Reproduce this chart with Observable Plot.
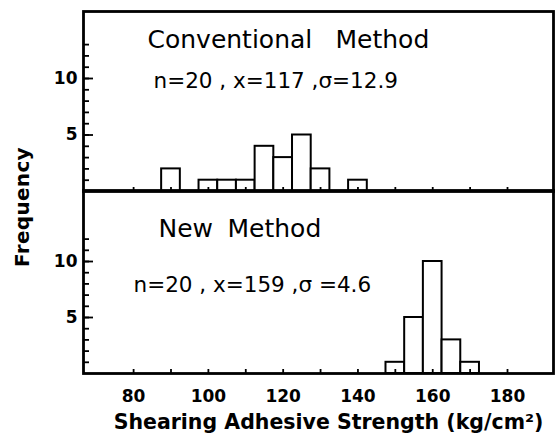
<!DOCTYPE html>
<html>
<head>
<meta charset="utf-8">
<script src="https://cdn.jsdelivr.net/npm/d3@7"></script>
<script src="https://cdn.jsdelivr.net/npm/@observablehq/plot@0.6"></script>
<style>
  html, body { margin: 0; padding: 0; background: white; }
  #chart { position: relative; width: 558px; height: 440px; font-family: "DejaVu Sans", sans-serif; color: black; }
  #chart svg { position: absolute; left: 0; top: 0; background: transparent !important; }
  #ylabel { position: absolute; left: 22px; top: 207px; transform: translate(-50%, -50%) rotate(-90deg); font-size: 20px; font-weight: bold; white-space: nowrap; letter-spacing: 0.3px; }
</style>
</head>
<body>
<div id="chart"><div id="ylabel">Frequency</div></div>
<script>
// ---- data ----
const convBins   = [90, 100, 105, 110, 115, 120, 125, 130, 140];
const convCounts = [2, 1, 1, 1, 4, 3, 5, 2, 1];
const newBins    = [150, 155, 160, 165, 170];
const newCounts  = [1, 5, 10, 3, 1];
const binWidth = 5;

const xMinorTicks = [80, 90, 100, 110, 120, 130, 140, 150, 160, 170, 180];
const xTickLabels = [80, 100, 120, 140, 160, 180];
const yMinorTicksTop = [1, 2, 3, 4, 5, 6, 7, 8, 9, 10, 11, 12, 13];
const yMinorTicksBottom = [1, 2, 3, 4, 5, 6, 7, 8, 9, 10, 11, 12];
const yMajorTicks = [5, 10];

const titleTop = ["Conventional", "Method"];
const statsTop = "n=20 , x=117 ,σ=12.9";
const titleBottom = ["New", "Method"];
const statsBottom = "n=20 , x=159 ,σ =4.6";
const xTitle = "Shearing Adhesive Strength (kg/cm²)";

const toRows = (bins, counts) => bins.map((b, i) => ({x1: b - binWidth / 2, x2: b + binWidth / 2, count: counts[i]}));

const xDomain = [66.6, 192.3];
const W = 558, ML = 83, MR = 5;

function panel({rows, yMinor, yDomain, height, marginTop, marginBottom, title, stats, titlePos, statsPos, showXLabels}) {
  const marks = [
    Plot.rectY(rows, {x1: "x1", x2: "x2", y: "count", fill: "white", stroke: "black", strokeWidth: 2}),
    Plot.axisY(yMinor, {anchor: "left", tickSize: 6, dx: 6, text: null, label: null, strokeWidth: 1.8}),
    Plot.axisY(yMajorTicks, {anchor: "left", tickSize: 10, dx: 10, text: null, label: null, strokeWidth: 1.8}),
    Plot.axisY(yMajorTicks, {anchor: "left", tickSize: 0, tickPadding: 6, label: null, fontSize: 17, fontWeight: "bold"}),
    Plot.axisX(xMinorTicks, {anchor: "bottom", tickSize: 4, dy: -4, text: null, label: null, strokeWidth: 1.8}),
    Plot.frame({stroke: "black", strokeWidth: 2.8}),
    // title words (placed as in the reference, with its wide word gap)
    ...title.map((w, i) => Plot.text([w], {text: d => d, frameAnchor: "top-left", dx: titlePos[i][0], dy: titlePos[i][1], textAnchor: "start", lineAnchor: "middle", fontSize: 25})),
    Plot.text([stats], {text: d => d, frameAnchor: "top-left", dx: statsPos[0], dy: statsPos[1], textAnchor: "start", lineAnchor: "middle", fontSize: 21.5})
  ];
  if (showXLabels) {
    marks.push(Plot.axisX(xTickLabels, {anchor: "bottom", tickSize: 0, tickPadding: 16, label: null, fontSize: 17, fontWeight: "bold"}));
    marks.push(Plot.text([xTitle], {text: d => d, frameAnchor: "bottom", dx: 10, dy: 49, lineAnchor: "middle", fontSize: 20.5, fontWeight: "bold"}));
  }
  return Plot.plot({
    width: W, height, marginLeft: ML, marginRight: MR, marginTop, marginBottom,
    style: {fontFamily: "DejaVu Sans, sans-serif", color: "black", background: "transparent", overflow: "visible"},
    x: {domain: xDomain},
    y: {domain: yDomain},
    marks
  });
}

const topPanel = panel({
  rows: toRows(convBins, convCounts), yMinor: yMinorTicksTop, yDomain: [0, 15.93],
  height: 193, marginTop: 11, marginBottom: 2,
  title: titleTop, stats: statsTop, titlePos: [[64, 28], [252, 28]], statsPos: [70, 70], showXLabels: false
});
const bottomPanel = panel({
  rows: toRows(newBins, newCounts), yMinor: yMinorTicksBottom, yDomain: [0, 16.34],
  height: 440, marginTop: 190, marginBottom: 67,
  title: titleBottom, stats: statsBottom, titlePos: [[75, 38], [144, 38]], statsPos: [50, 95], showXLabels: true
});
const chart = document.getElementById("chart");
chart.appendChild(topPanel);
chart.appendChild(bottomPanel);
</script>
</body>
</html>
